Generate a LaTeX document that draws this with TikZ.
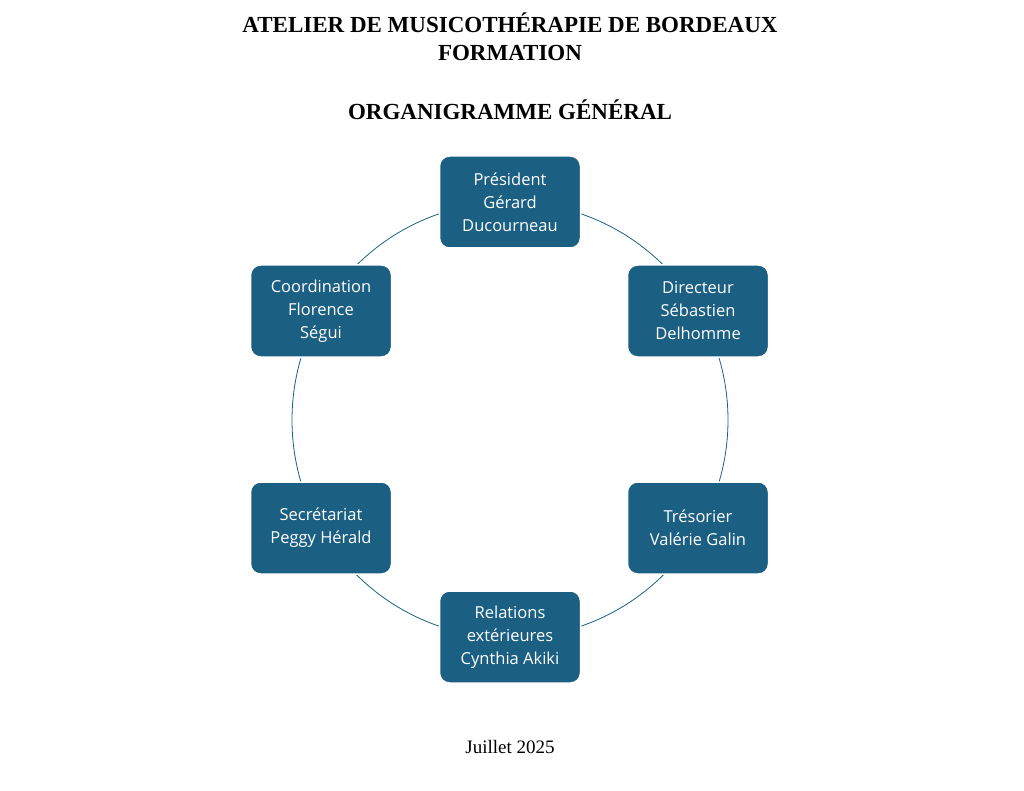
\documentclass[tikz,border=0pt]{standalone}
\usepackage{fontspec}
\setmainfont{Liberation Serif}
\newfontfamily\boxfont{Open Sans}
\definecolor{boxblue}{HTML}{1B5F83}
\begin{document}
\begin{tikzpicture}[x=1pt,y=-1pt,
  person/.style={rectangle,rounded corners=10pt,fill=boxblue,draw=white,line width=1.5pt,
    minimum width=141pt,minimum height=92pt,align=center,text=white,
    font=\boxfont\fontsize{16.5}{23}\selectfont},
  ttl/.style={font=\bfseries\fontsize{23}{26}\selectfont}]
\useasboundingbox (0,0) rectangle (1024,791);
\node[ttl] (t1) at (510,23) {ATELIER DE MUSICOTHÉRAPIE DE BORDEAUX};
\node[ttl] (t2) at (510,53) {FORMATION};
\node[ttl] (t3) at (510,110) {ORGANIGRAMME GÉNÉRAL};
\draw[boxblue,line width=0.8pt] (510,420) circle (218);
\node[person] (p) at (510,202) {Président\\Gérard\\Ducourneau};
\node[person] (d) at (698,311) {Directeur\\Sébastien\\Delhomme};
\node[person] (tr) at (698,528) {Trésorier\\Valérie Galin};
\node[person] (r) at (510,637) {Relations\\extérieures\\Cynthia Akiki};
\node[person] (s) at (321,528) {Secrétariat\\Peggy Hérald};
\node[person] (c) at (321,311) {Coordination\\Florence\\Ségui};
\node[font=\fontsize{19}{22}\selectfont] (j) at (510,747) {Juillet 2025};
\end{tikzpicture}
\end{document}
